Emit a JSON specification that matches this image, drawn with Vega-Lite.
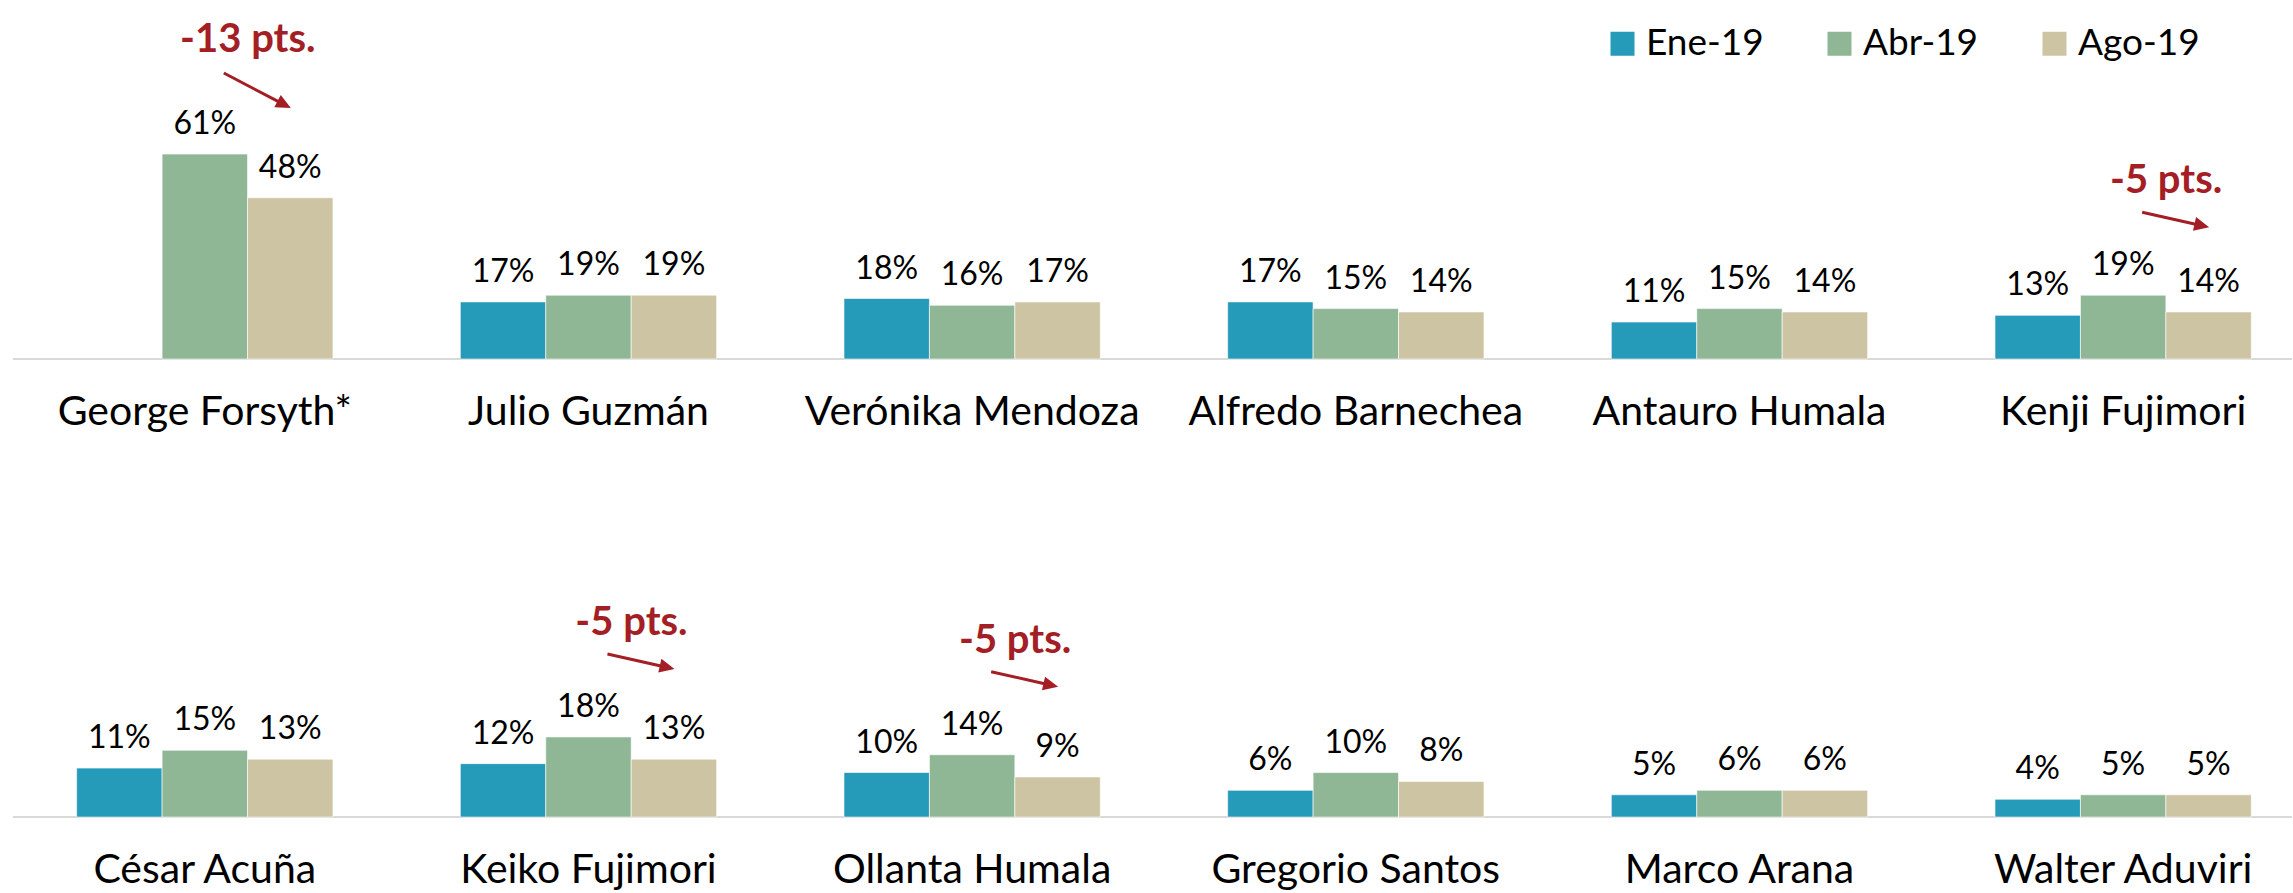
{
  "$schema": "https://vega.github.io/schema/vega-lite/v6.json",
  "width": 2293,
  "height": 893,
  "autosize": {"type": "fit", "contains": "padding"},
  "padding": {"left": 12, "top": 0, "right": 0, "bottom": 0},
  "config": {"view": {"stroke": null}, "font": "Lato", "text": {"color": "#000000", "font": "Lato"}},
  "data": {"values": [
    {"row": 1, "name": "George Forsyth*", "series": "Abr-19", "value": 0.61, "note": "-13 pts."},
    {"row": 1, "name": "George Forsyth*", "series": "Ago-19", "value": 0.48},
    {"row": 1, "name": "Julio Guzmán", "series": "Ene-19", "value": 0.17},
    {"row": 1, "name": "Julio Guzmán", "series": "Abr-19", "value": 0.19},
    {"row": 1, "name": "Julio Guzmán", "series": "Ago-19", "value": 0.19},
    {"row": 1, "name": "Verónika Mendoza", "series": "Ene-19", "value": 0.18},
    {"row": 1, "name": "Verónika Mendoza", "series": "Abr-19", "value": 0.16},
    {"row": 1, "name": "Verónika Mendoza", "series": "Ago-19", "value": 0.17},
    {"row": 1, "name": "Alfredo Barnechea", "series": "Ene-19", "value": 0.17},
    {"row": 1, "name": "Alfredo Barnechea", "series": "Abr-19", "value": 0.15},
    {"row": 1, "name": "Alfredo Barnechea", "series": "Ago-19", "value": 0.14},
    {"row": 1, "name": "Antauro Humala", "series": "Ene-19", "value": 0.11},
    {"row": 1, "name": "Antauro Humala", "series": "Abr-19", "value": 0.15},
    {"row": 1, "name": "Antauro Humala", "series": "Ago-19", "value": 0.14},
    {"row": 1, "name": "Kenji Fujimori", "series": "Ene-19", "value": 0.13},
    {"row": 1, "name": "Kenji Fujimori", "series": "Abr-19", "value": 0.19, "note": "-5 pts."},
    {"row": 1, "name": "Kenji Fujimori", "series": "Ago-19", "value": 0.14},
    {"row": 2, "name": "César Acuña", "series": "Ene-19", "value": 0.11},
    {"row": 2, "name": "César Acuña", "series": "Abr-19", "value": 0.15},
    {"row": 2, "name": "César Acuña", "series": "Ago-19", "value": 0.13},
    {"row": 2, "name": "Keiko Fujimori", "series": "Ene-19", "value": 0.12},
    {"row": 2, "name": "Keiko Fujimori", "series": "Abr-19", "value": 0.18, "note": "-5 pts."},
    {"row": 2, "name": "Keiko Fujimori", "series": "Ago-19", "value": 0.13},
    {"row": 2, "name": "Ollanta Humala", "series": "Ene-19", "value": 0.10},
    {"row": 2, "name": "Ollanta Humala", "series": "Abr-19", "value": 0.14, "note": "-5 pts."},
    {"row": 2, "name": "Ollanta Humala", "series": "Ago-19", "value": 0.09},
    {"row": 2, "name": "Gregorio Santos", "series": "Ene-19", "value": 0.06},
    {"row": 2, "name": "Gregorio Santos", "series": "Abr-19", "value": 0.10},
    {"row": 2, "name": "Gregorio Santos", "series": "Ago-19", "value": 0.08},
    {"row": 2, "name": "Marco Arana", "series": "Ene-19", "value": 0.05},
    {"row": 2, "name": "Marco Arana", "series": "Abr-19", "value": 0.06},
    {"row": 2, "name": "Marco Arana", "series": "Ago-19", "value": 0.06},
    {"row": 2, "name": "Walter Aduviri", "series": "Ene-19", "value": 0.04},
    {"row": 2, "name": "Walter Aduviri", "series": "Abr-19", "value": 0.05},
    {"row": 2, "name": "Walter Aduviri", "series": "Ago-19", "value": 0.05}
  ]},
  "layer": [
    {
      "transform": [{"filter": "datum.row == 1"}],
      "layer": [
        {
          "mark": {"type": "rule", "color": "#D9D9D9", "strokeWidth": 2},
          "encoding": {"y": {"datum": 0, "type": "quantitative", "axis": null, "scale": {"domain": [-1.5892, 1.0685], "nice": false, "zero": false}}}
        },
        {
          "mark": {"type": "bar", "stroke": "#ffffff", "strokeWidth": 1, "strokeOpacity": 0.6},
          "encoding": {
            "x": {"field": "name", "type": "nominal", "sort": null, "axis": null, "scale": {"paddingInner": 0.332, "paddingOuter": 0.136, "align": 0.61}},
            "xOffset": {"field": "series", "type": "nominal", "scale": {"domain": ["Ene-19", "Abr-19", "Ago-19"], "paddingInner": 0, "paddingOuter": 0}},
            "y": {"field": "value", "type": "quantitative", "axis": null},
            "y2": {"datum": 0},
            "color": {"field": "series", "type": "nominal", "scale": {"domain": ["Ene-19", "Abr-19", "Ago-19"], "range": ["#259AB9", "#8FB795", "#CCC4A3"]},
              "legend": {"orient": "none", "legendX": 1591, "legendY": 25, "direction": "horizontal", "title": null, "symbolType": "square", "symbolSize": 576, "symbolStrokeWidth": 0, "symbolOpacity": 1, "labelFontSize": 37, "labelFont": "Lato", "labelColor": "#000000", "labelOffset": 5, "columnPadding": 57, "padding": 0}}
          }
        },
        {
          "mark": {"type": "text", "fontSize": 32, "baseline": "alphabetic", "dy": -20},
          "encoding": {
            "x": {"field": "name", "type": "nominal", "sort": null, "axis": null},
            "xOffset": {"field": "series", "type": "nominal"},
            "y": {"field": "value", "type": "quantitative"},
            "text": {"field": "value", "type": "quantitative", "format": ".0%"}
          }
        },
        {
          "transform": [{"filter": "datum.series == 'Abr-19'"}],
          "mark": {"type": "text", "fontSize": 41, "baseline": "alphabetic", "dy": 66},
          "encoding": {
            "x": {"field": "name", "type": "nominal", "sort": null, "axis": null},
            "y": {"datum": 0, "type": "quantitative"},
            "text": {"field": "name"}
          }
        },
        {
          "transform": [{"filter": "isValid(datum.note)"}],
          "mark": {"type": "text", "fontSize": 40, "fontWeight": "bold", "color": "#A41E25", "baseline": "alphabetic", "dx": 43, "dy": -102},
          "encoding": {
            "x": {"field": "name", "type": "nominal", "sort": null, "axis": null},
            "xOffset": {"field": "series", "type": "nominal"},
            "y": {"field": "value", "type": "quantitative"},
            "text": {"field": "note"}
          }
        },
        {
          "transform": [{"filter": "datum.note == '-13 pts.'"}],
          "mark": {"type": "point", "filled": true, "color": "#A41E25", "opacity": 1, "strokeWidth": 0, "size": 4, "shape": "M19.7,-82.3L73.4,-54.3L76.0,-59.1L86,-46L69.5,-46.7L72.0,-51.6L18.3,-79.7Z"},
          "encoding": {
            "x": {"field": "name", "type": "nominal", "sort": null, "axis": null},
            "xOffset": {"field": "series", "type": "nominal"},
            "y": {"field": "value", "type": "quantitative"}
          }
        },
        {
          "transform": [{"filter": "datum.note == '-5 pts.'"}],
          "mark": {"type": "point", "filled": true, "color": "#A41E25", "opacity": 1, "strokeWidth": 0, "size": 4, "shape": "M19.3,-84.5L71.7,-72.7L72.9,-78.1L86,-68L69.8,-64.5L71.0,-69.8L18.7,-81.5Z"},
          "encoding": {
            "x": {"field": "name", "type": "nominal", "sort": null, "axis": null},
            "xOffset": {"field": "series", "type": "nominal"},
            "y": {"field": "value", "type": "quantitative"}
          }
        }
      ]
    },
    {
      "transform": [{"filter": "datum.row == 2"}],
      "layer": [
        {
          "mark": {"type": "rule", "color": "#D9D9D9", "strokeWidth": 2},
          "encoding": {"y": {"datum": 0, "type": "quantitative", "axis": null, "scale": {"domain": [-0.1707, 1.836], "nice": false, "zero": false}}}
        },
        {
          "mark": {"type": "bar", "stroke": "#ffffff", "strokeWidth": 1, "strokeOpacity": 0.6},
          "encoding": {
            "x": {"field": "name", "type": "nominal", "sort": null, "axis": null, "scale": {"paddingInner": 0.332, "paddingOuter": 0.136, "align": 0.61}},
            "xOffset": {"field": "series", "type": "nominal", "scale": {"domain": ["Ene-19", "Abr-19", "Ago-19"], "paddingInner": 0, "paddingOuter": 0}},
            "y": {"field": "value", "type": "quantitative", "axis": null},
            "y2": {"datum": 0},
            "color": {"field": "series", "type": "nominal", "scale": {"domain": ["Ene-19", "Abr-19", "Ago-19"], "range": ["#259AB9", "#8FB795", "#CCC4A3"]},
              "legend": {"orient": "none", "legendX": 1591, "legendY": 25, "direction": "horizontal", "title": null, "symbolType": "square", "symbolSize": 576, "symbolStrokeWidth": 0, "symbolOpacity": 1, "labelFontSize": 37, "labelFont": "Lato", "labelColor": "#000000", "labelOffset": 5, "columnPadding": 57, "padding": 0}}
          }
        },
        {
          "mark": {"type": "text", "fontSize": 32, "baseline": "alphabetic", "dy": -20},
          "encoding": {
            "x": {"field": "name", "type": "nominal", "sort": null, "axis": null},
            "xOffset": {"field": "series", "type": "nominal"},
            "y": {"field": "value", "type": "quantitative"},
            "text": {"field": "value", "type": "quantitative", "format": ".0%"}
          }
        },
        {
          "transform": [{"filter": "datum.series == 'Abr-19'"}],
          "mark": {"type": "text", "fontSize": 41, "baseline": "alphabetic", "dy": 66},
          "encoding": {
            "x": {"field": "name", "type": "nominal", "sort": null, "axis": null},
            "y": {"datum": 0, "type": "quantitative"},
            "text": {"field": "name"}
          }
        },
        {
          "transform": [{"filter": "isValid(datum.note)"}],
          "mark": {"type": "text", "fontSize": 40, "fontWeight": "bold", "color": "#A41E25", "baseline": "alphabetic", "dx": 43, "dy": -102},
          "encoding": {
            "x": {"field": "name", "type": "nominal", "sort": null, "axis": null},
            "xOffset": {"field": "series", "type": "nominal"},
            "y": {"field": "value", "type": "quantitative"},
            "text": {"field": "note"}
          }
        },
        {
          "transform": [{"filter": "datum.note == '-5 pts.'"}],
          "mark": {"type": "point", "filled": true, "color": "#A41E25", "opacity": 1, "strokeWidth": 0, "size": 4, "shape": "M19.3,-84.5L71.7,-72.7L72.9,-78.1L86,-68L69.8,-64.5L71.0,-69.8L18.7,-81.5Z"},
          "encoding": {
            "x": {"field": "name", "type": "nominal", "sort": null, "axis": null},
            "xOffset": {"field": "series", "type": "nominal"},
            "y": {"field": "value", "type": "quantitative"}
          }
        }
      ]
    }
  ],
  "resolve": {"scale": {"x": "independent", "y": "independent", "xOffset": "independent"}}
}
